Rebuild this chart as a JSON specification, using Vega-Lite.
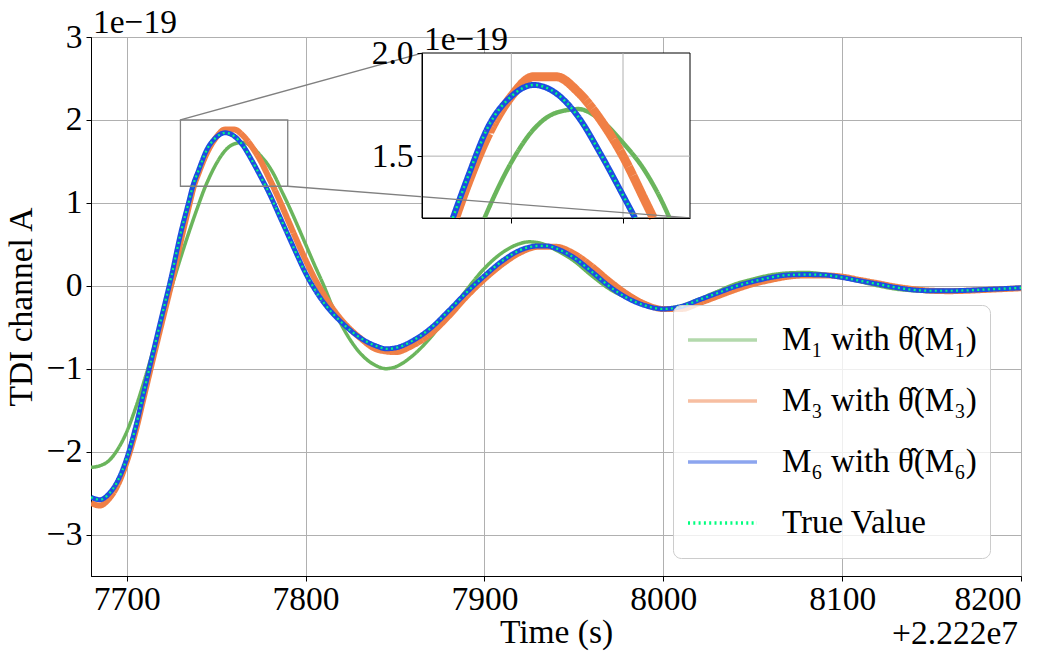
{
  "$schema": "https://vega.github.io/schema/vega-lite/v6.json",
  "width": 930,
  "height": 539,
  "autosize": {"type": "none"},
  "padding": {"left": 91, "top": 37, "right": 42, "bottom": 85},
  "config": {
    "font": "Liberation Serif",
    "view": {"stroke": "black", "strokeWidth": 1},
    "style": {
      "guide-label": {"font": "Liberation Serif", "fontSize": 33.5, "fill": "black"},
      "guide-title": {"font": "Liberation Serif", "fontSize": 33.5, "fill": "black", "fontWeight": "normal"}
    },
    "axis": {
      "labelFont": "Liberation Serif", "labelFontSize": 33.5, "labelColor": "black",
      "titleFont": "Liberation Serif", "titleFontSize": 33.5, "titleFontWeight": "normal", "titleColor": "black",
      "tickColor": "black", "domainColor": "black", "tickSize": 5, "labelPadding": 4,
      "gridColor": "#b0b0b0", "gridOpacity": 1
    },
    "axisX": {"labelPadding": 2},
    "text": {"font": "Liberation Serif", "fontSize": 33.5, "color": "black"}
  },
  "datasets": {
    "curves": [
      {"series":"M1","t":7680,"v":-2.19},{"series":"M1","t":7685,"v":-2.17},{"series":"M1","t":7690,"v":-2.11},{"series":"M1","t":7695,"v":-1.97},
      {"series":"M1","t":7700,"v":-1.76},{"series":"M1","t":7705,"v":-1.47},{"series":"M1","t":7710,"v":-1.13},{"series":"M1","t":7715,"v":-0.76},
      {"series":"M1","t":7720,"v":-0.38},{"series":"M1","t":7725,"v":-0.02},{"series":"M1","t":7730,"v":0.33},{"series":"M1","t":7735,"v":0.66},
      {"series":"M1","t":7740,"v":0.97},{"series":"M1","t":7744,"v":1.2},{"series":"M1","t":7745,"v":1.25},{"series":"M1","t":7750,"v":1.47},
      {"series":"M1","t":7755,"v":1.63},{"series":"M1","t":7760,"v":1.71},{"series":"M1","t":7765,"v":1.728},{"series":"M1","t":7770,"v":1.675},
      {"series":"M1","t":7775,"v":1.565},{"series":"M1","t":7780,"v":1.425},{"series":"M1","t":7785,"v":1.22},{"series":"M1","t":7785.4,"v":1.2},
      {"series":"M1","t":7790,"v":0.99},{"series":"M1","t":7795,"v":0.75},{"series":"M1","t":7800,"v":0.5},{"series":"M1","t":7805,"v":0.25},
      {"series":"M1","t":7810,"v":0.01},{"series":"M1","t":7815,"v":-0.25},{"series":"M1","t":7820,"v":-0.47},{"series":"M1","t":7830,"v":-0.8},
      {"series":"M1","t":7840,"v":-0.97},{"series":"M1","t":7845,"v":-1.0},{"series":"M1","t":7850,"v":-0.98},{"series":"M1","t":7860,"v":-0.84},
      {"series":"M1","t":7870,"v":-0.62},{"series":"M1","t":7880,"v":-0.34},{"series":"M1","t":7890,"v":-0.05},{"series":"M1","t":7900,"v":0.21},
      {"series":"M1","t":7910,"v":0.4},{"series":"M1","t":7920,"v":0.51},{"series":"M1","t":7925,"v":0.53},{"series":"M1","t":7930,"v":0.52},
      {"series":"M1","t":7940,"v":0.43},{"series":"M1","t":7950,"v":0.3},{"series":"M1","t":7960,"v":0.12},{"series":"M1","t":7970,"v":-0.04},
      {"series":"M1","t":7980,"v":-0.15},{"series":"M1","t":7990,"v":-0.23},{"series":"M1","t":8000,"v":-0.27},{"series":"M1","t":8010,"v":-0.24},
      {"series":"M1","t":8020,"v":-0.16},{"series":"M1","t":8030,"v":-0.07},{"series":"M1","t":8040,"v":0.02},{"series":"M1","t":8050,"v":0.08},
      {"series":"M1","t":8060,"v":0.13},{"series":"M1","t":8070,"v":0.155},{"series":"M1","t":8080,"v":0.16},{"series":"M1","t":8090,"v":0.14},
      {"series":"M1","t":8100,"v":0.1},{"series":"M1","t":8110,"v":0.05},{"series":"M1","t":8120,"v":0.0},{"series":"M1","t":8130,"v":-0.04},
      {"series":"M1","t":8140,"v":-0.06},{"series":"M1","t":8150,"v":-0.07},{"series":"M1","t":8160,"v":-0.07},{"series":"M1","t":8170,"v":-0.06},
      {"series":"M1","t":8180,"v":-0.05},{"series":"M1","t":8190,"v":-0.03},{"series":"M1","t":8200,"v":-0.02},

      {"series":"M3","t":7680,"v":-2.62},{"series":"M3","t":7685,"v":-2.65},{"series":"M3","t":7690,"v":-2.57},{"series":"M3","t":7695,"v":-2.4},
      {"series":"M3","t":7700,"v":-2.12},{"series":"M3","t":7705,"v":-1.75},{"series":"M3","t":7710,"v":-1.3},{"series":"M3","t":7715,"v":-0.85},
      {"series":"M3","t":7720,"v":-0.41},{"series":"M3","t":7725,"v":0.03},{"series":"M3","t":7730,"v":0.52},{"series":"M3","t":7735,"v":0.98},
      {"series":"M3","t":7737.5,"v":1.2},{"series":"M3","t":7740,"v":1.35},{"series":"M3","t":7745,"v":1.61},{"series":"M3","t":7750,"v":1.79},
      {"series":"M3","t":7755,"v":1.885},{"series":"M3","t":7760,"v":1.885},{"series":"M3","t":7765,"v":1.81},{"series":"M3","t":7770,"v":1.675},
      {"series":"M3","t":7775,"v":1.5},{"series":"M3","t":7780,"v":1.28},{"series":"M3","t":7781.8,"v":1.2},{"series":"M3","t":7785,"v":1.05},
      {"series":"M3","t":7790,"v":0.8},{"series":"M3","t":7795,"v":0.55},{"series":"M3","t":7800,"v":0.31},{"series":"M3","t":7805,"v":0.09},
      {"series":"M3","t":7810,"v":-0.1},{"series":"M3","t":7815,"v":-0.27},{"series":"M3","t":7820,"v":-0.41},{"series":"M3","t":7830,"v":-0.62},
      {"series":"M3","t":7840,"v":-0.77},{"series":"M3","t":7850,"v":-0.8},{"series":"M3","t":7860,"v":-0.72},{"series":"M3","t":7870,"v":-0.58},
      {"series":"M3","t":7880,"v":-0.37},{"series":"M3","t":7890,"v":-0.13},{"series":"M3","t":7900,"v":0.08},{"series":"M3","t":7910,"v":0.26},
      {"series":"M3","t":7920,"v":0.4},{"series":"M3","t":7930,"v":0.47},{"series":"M3","t":7940,"v":0.47},{"series":"M3","t":7950,"v":0.39},
      {"series":"M3","t":7960,"v":0.24},{"series":"M3","t":7970,"v":0.06},{"series":"M3","t":7980,"v":-0.1},{"series":"M3","t":7990,"v":-0.22},
      {"series":"M3","t":8000,"v":-0.28},{"series":"M3","t":8010,"v":-0.28},{"series":"M3","t":8020,"v":-0.21},{"series":"M3","t":8030,"v":-0.13},
      {"series":"M3","t":8040,"v":-0.05},{"series":"M3","t":8050,"v":0.02},{"series":"M3","t":8060,"v":0.07},{"series":"M3","t":8070,"v":0.11},
      {"series":"M3","t":8080,"v":0.125},{"series":"M3","t":8090,"v":0.125},{"series":"M3","t":8100,"v":0.11},{"series":"M3","t":8110,"v":0.07},
      {"series":"M3","t":8120,"v":0.03},{"series":"M3","t":8130,"v":-0.01},{"series":"M3","t":8140,"v":-0.04},{"series":"M3","t":8150,"v":-0.06},
      {"series":"M3","t":8160,"v":-0.065},{"series":"M3","t":8170,"v":-0.06},{"series":"M3","t":8180,"v":-0.05},{"series":"M3","t":8190,"v":-0.04},
      {"series":"M3","t":8200,"v":-0.03},

      {"series":"M6","t":7680,"v":-2.55},{"series":"M6","t":7685,"v":-2.58},{"series":"M6","t":7690,"v":-2.51},{"series":"M6","t":7695,"v":-2.35},
      {"series":"M6","t":7700,"v":-2.08},{"series":"M6","t":7705,"v":-1.7},{"series":"M6","t":7710,"v":-1.24},{"series":"M6","t":7715,"v":-0.78},
      {"series":"M6","t":7720,"v":-0.33},{"series":"M6","t":7725,"v":0.12},{"series":"M6","t":7730,"v":0.62},{"series":"M6","t":7735,"v":1.04},
      {"series":"M6","t":7736.9,"v":1.2},{"series":"M6","t":7740,"v":1.384},{"series":"M6","t":7745,"v":1.65},{"series":"M6","t":7750,"v":1.79},
      {"series":"M6","t":7755,"v":1.845},{"series":"M6","t":7760,"v":1.805},{"series":"M6","t":7765,"v":1.69},{"series":"M6","t":7770,"v":1.51},
      {"series":"M6","t":7775,"v":1.31},{"series":"M6","t":7777.7,"v":1.2},{"series":"M6","t":7780,"v":1.1},{"series":"M6","t":7785,"v":0.86},
      {"series":"M6","t":7790,"v":0.62},{"series":"M6","t":7795,"v":0.38},{"series":"M6","t":7800,"v":0.15},{"series":"M6","t":7805,"v":-0.04},
      {"series":"M6","t":7810,"v":-0.2},{"series":"M6","t":7815,"v":-0.33},{"series":"M6","t":7820,"v":-0.44},{"series":"M6","t":7830,"v":-0.62},
      {"series":"M6","t":7840,"v":-0.73},{"series":"M6","t":7845,"v":-0.76},{"series":"M6","t":7850,"v":-0.75},{"series":"M6","t":7860,"v":-0.66},
      {"series":"M6","t":7870,"v":-0.51},{"series":"M6","t":7880,"v":-0.3},{"series":"M6","t":7890,"v":-0.08},{"series":"M6","t":7900,"v":0.12},
      {"series":"M6","t":7910,"v":0.3},{"series":"M6","t":7920,"v":0.43},{"series":"M6","t":7930,"v":0.48},{"series":"M6","t":7935,"v":0.48},
      {"series":"M6","t":7940,"v":0.45},{"series":"M6","t":7950,"v":0.34},{"series":"M6","t":7960,"v":0.17},{"series":"M6","t":7970,"v":-0.01},
      {"series":"M6","t":7980,"v":-0.15},{"series":"M6","t":7990,"v":-0.24},{"series":"M6","t":8000,"v":-0.28},{"series":"M6","t":8010,"v":-0.25},
      {"series":"M6","t":8020,"v":-0.17},{"series":"M6","t":8030,"v":-0.09},{"series":"M6","t":8040,"v":-0.01},{"series":"M6","t":8050,"v":0.05},
      {"series":"M6","t":8060,"v":0.1},{"series":"M6","t":8070,"v":0.13},{"series":"M6","t":8080,"v":0.135},{"series":"M6","t":8090,"v":0.13},
      {"series":"M6","t":8100,"v":0.1},{"series":"M6","t":8110,"v":0.06},{"series":"M6","t":8120,"v":0.02},{"series":"M6","t":8130,"v":-0.02},
      {"series":"M6","t":8140,"v":-0.05},{"series":"M6","t":8150,"v":-0.06},{"series":"M6","t":8160,"v":-0.06},{"series":"M6","t":8170,"v":-0.055},
      {"series":"M6","t":8180,"v":-0.045},{"series":"M6","t":8190,"v":-0.035},{"series":"M6","t":8200,"v":-0.025},

      {"series":"True","t":7680,"v":-2.55},{"series":"True","t":7685,"v":-2.58},{"series":"True","t":7690,"v":-2.51},{"series":"True","t":7695,"v":-2.35},
      {"series":"True","t":7700,"v":-2.08},{"series":"True","t":7705,"v":-1.7},{"series":"True","t":7710,"v":-1.24},{"series":"True","t":7715,"v":-0.78},
      {"series":"True","t":7720,"v":-0.33},{"series":"True","t":7725,"v":0.12},{"series":"True","t":7730,"v":0.62},{"series":"True","t":7735,"v":1.04},
      {"series":"True","t":7736.9,"v":1.2},{"series":"True","t":7740,"v":1.384},{"series":"True","t":7745,"v":1.65},{"series":"True","t":7750,"v":1.79},
      {"series":"True","t":7755,"v":1.845},{"series":"True","t":7760,"v":1.805},{"series":"True","t":7765,"v":1.69},{"series":"True","t":7770,"v":1.51},
      {"series":"True","t":7775,"v":1.31},{"series":"True","t":7777.7,"v":1.2},{"series":"True","t":7780,"v":1.1},{"series":"True","t":7785,"v":0.86},
      {"series":"True","t":7790,"v":0.62},{"series":"True","t":7795,"v":0.38},{"series":"True","t":7800,"v":0.15},{"series":"True","t":7805,"v":-0.04},
      {"series":"True","t":7810,"v":-0.2},{"series":"True","t":7815,"v":-0.33},{"series":"True","t":7820,"v":-0.44},{"series":"True","t":7830,"v":-0.62},
      {"series":"True","t":7840,"v":-0.73},{"series":"True","t":7845,"v":-0.76},{"series":"True","t":7850,"v":-0.75},{"series":"True","t":7860,"v":-0.66},
      {"series":"True","t":7870,"v":-0.51},{"series":"True","t":7880,"v":-0.3},{"series":"True","t":7890,"v":-0.08},{"series":"True","t":7900,"v":0.12},
      {"series":"True","t":7910,"v":0.3},{"series":"True","t":7920,"v":0.43},{"series":"True","t":7930,"v":0.48},{"series":"True","t":7935,"v":0.48},
      {"series":"True","t":7940,"v":0.45},{"series":"True","t":7950,"v":0.34},{"series":"True","t":7960,"v":0.17},{"series":"True","t":7970,"v":-0.01},
      {"series":"True","t":7980,"v":-0.15},{"series":"True","t":7990,"v":-0.24},{"series":"True","t":8000,"v":-0.28},{"series":"True","t":8010,"v":-0.25},
      {"series":"True","t":8020,"v":-0.17},{"series":"True","t":8030,"v":-0.09},{"series":"True","t":8040,"v":-0.01},{"series":"True","t":8050,"v":0.05},
      {"series":"True","t":8060,"v":0.1},{"series":"True","t":8070,"v":0.13},{"series":"True","t":8080,"v":0.135},{"series":"True","t":8090,"v":0.13},
      {"series":"True","t":8100,"v":0.1},{"series":"True","t":8110,"v":0.06},{"series":"True","t":8120,"v":0.02},{"series":"True","t":8130,"v":-0.02},
      {"series":"True","t":8140,"v":-0.05},{"series":"True","t":8150,"v":-0.06},{"series":"True","t":8160,"v":-0.06},{"series":"True","t":8170,"v":-0.055},
      {"series":"True","t":8180,"v":-0.045},{"series":"True","t":8190,"v":-0.035},{"series":"True","t":8200,"v":-0.025}
    ]
  },
  "resolve": {"scale": {"x": "independent", "y": "independent"}, "axis": {"x": "independent", "y": "independent"}},
  "layer": [
    {
      "data": {"name": "curves"},
      "encoding": {
        "x": {
          "field": "t", "type": "quantitative",
          "scale": {"domain": [7680, 8200], "nice": false, "zero": false},
          "axis": {
            "title": "Time (s)", "values": [7700, 7800, 7900, 8000, 8100, 8200], "format": "d", "grid": true, "titlePadding": 1,
            "labelFont": "Liberation Serif", "labelFontSize": 33.5, "titleFont": "Liberation Serif", "titleFontSize": 33.5
          }
        },
        "y": {
          "field": "v", "type": "quantitative",
          "scale": {"domain": [-3.5, 3], "nice": false, "zero": false},
          "axis": {
            "title": "TDI channel A", "values": [-3, -2, -1, 0, 1, 2, 3], "format": "d", "grid": true, "titlePadding": 8,
            "labelFont": "Liberation Serif", "labelFontSize": 33.5, "titleFont": "Liberation Serif", "titleFontSize": 33.5
          }
        },
        "color": {
          "field": "series", "type": "nominal",
          "scale": {"domain": ["M1", "M3", "M6", "True"], "range": ["#6ab55c", "#f07f45", "#1c4ee0", "#00ff7f"]},
          "legend": {
            "title": null, "orient": "none", "legendX": 582, "legendY": 268,
            "padding": 13, "fillColor": "rgba(255,255,255,0.8)", "strokeColor": "#cccccc", "cornerRadius": 8,
            "symbolType": "stroke", "symbolSize": 4761, "symbolStrokeWidth": 3.5,
            "labelFont": "Liberation Serif", "labelFontSize": 33, "labelColor": "black", "labelOffset": 23, "labelLimit": 400,
            "clipHeight": 44, "rowPadding": 17,
            "labelExpr": "datum.value === 'M1' ? 'M\u2081 with \u03b8\u0302(M\u2081)' : datum.value === 'M3' ? 'M\u2083 with \u03b8\u0302(M\u2083)' : datum.value === 'M6' ? 'M\u2086 with \u03b8\u0302(M\u2086)' : 'True Value'",
            "encode": {"symbols": {"update": {
              "opacity": {"signal": "datum.value === 'True' ? 1 : 0.5"}
            }}}
          }
        },
        "strokeDash": {
          "field": "series", "type": "nominal",
          "scale": {"domain": ["M1", "M3", "M6", "True"], "range": [[1, 0], [1, 0], [1, 0], [2, 3.3]]}
        }
      },
      "layer": [
        {"transform": [{"filter": "datum.series === 'M1'"}], "mark": {"type": "line", "interpolate": "monotone", "strokeWidth": 3.5, "clip": true}},
        {"transform": [{"filter": "datum.series === 'M3'"}], "mark": {"type": "line", "interpolate": "monotone", "strokeWidth": 6, "clip": true}},
        {"transform": [{"filter": "datum.series === 'M6'"}], "mark": {"type": "line", "interpolate": "monotone", "strokeWidth": 5, "clip": true}},
        {"transform": [{"filter": "datum.series === 'True'"}], "mark": {"type": "line", "interpolate": "monotone", "strokeWidth": 2.2, "clip": true}}
      ]
    },
    {
      "encoding": {
        "x": {
          "field": "t", "type": "quantitative",
          "scale": {"domain": [7730, 7790], "range": [331, 599], "nice": false, "zero": false},
          "axis": {"orient": "bottom", "offset": -358, "values": [7750, 7775], "labels": false, "grid": false, "title": null, "zindex": 1}
        },
        "y": {
          "field": "v", "type": "quantitative",
          "scale": {"domain": [1.2, 2.0], "range": [181, 16], "nice": false, "zero": false},
          "axis": {
            "orient": "left", "offset": -331, "values": [1.5, 2.0], "format": ".1f", "grid": false, "title": null, "zindex": 1,
            "labelFont": "Liberation Serif", "labelFontSize": 33.5
          }
        }
      },
      "layer": [
        {
          "data": {"values": [{"t": 7730, "t2": 7790, "v": 1.2, "v2": 2.0}]},
          "mark": {"type": "rect", "fill": "white", "stroke": "black", "strokeWidth": 1},
          "encoding": {"x2": {"field": "t2"}, "y2": {"field": "v2"}}
        },
        {
          "data": {"values": [{"t": 7750, "v": 1.2, "v2": 2.0}, {"t": 7775, "v": 1.2, "v2": 2.0}]},
          "mark": {"type": "rule", "color": "#b0b0b0", "strokeWidth": 1},
          "encoding": {"y2": {"field": "v2"}}
        },
        {
          "data": {"values": [{"t": 7730, "t2": 7790, "v": 1.5}]},
          "mark": {"type": "rule", "color": "#b0b0b0", "strokeWidth": 1},
          "encoding": {"x2": {"field": "t2"}}
        },
        {
          "data": {"name": "curves"},
          "transform": [{"filter": "datum.t >= 7730 && datum.t <= 7790 && datum.v >= 1.2"}],
          "encoding": {
            "color": {"field": "series", "type": "nominal", "legend": null},
            "strokeDash": {"field": "series", "type": "nominal", "legend": null}
          },
          "layer": [
            {"transform": [{"filter": "datum.series === 'M1'"}], "mark": {"type": "line", "interpolate": "monotone", "strokeWidth": 4.5}},
            {"transform": [{"filter": "datum.series === 'M3'"}], "mark": {"type": "line", "interpolate": "monotone", "strokeWidth": 9}},
            {"transform": [{"filter": "datum.series === 'M6'"}], "mark": {"type": "line", "interpolate": "monotone", "strokeWidth": 6}},
            {"transform": [{"filter": "datum.series === 'True'"}], "mark": {"type": "line", "interpolate": "monotone", "strokeWidth": 2.5}}
          ]
        },
        {
          "data": {"values": [{"t": 7730, "v": 2.0, "label": "1e\u221219"}]},
          "mark": {"type": "text", "align": "left", "baseline": "alphabetic", "dx": 2, "dy": -3},
          "encoding": {"text": {"field": "label"}}
        }
      ]
    },
    {
      "encoding": {
        "x": {"field": "t", "type": "quantitative", "scale": {"domain": [7680, 8200], "nice": false, "zero": false}, "axis": null},
        "y": {"field": "v", "type": "quantitative", "scale": {"domain": [-3.5, 3], "nice": false, "zero": false}, "axis": null}
      },
      "layer": [
        {
          "data": {"values": [{"t": 7730, "t2": 7790, "v": 1.2, "v2": 2.0}]},
          "mark": {"type": "rect", "fill": "transparent", "stroke": "#808080", "strokeWidth": 1.3},
          "encoding": {"x2": {"field": "t2"}, "y2": {"field": "v2"}}
        },
        {
          "data": {"values": [
            {"t": 7730, "v": 2.0, "t2": 7865.07, "v2": 2.807},
            {"t": 7790, "v": 1.2, "t2": 8014.9, "v2": 0.819}
          ]},
          "mark": {"type": "rule", "color": "#808080", "strokeWidth": 1.3},
          "encoding": {"x2": {"field": "t2"}, "y2": {"field": "v2"}}
        },
        {
          "data": {"values": [{"t": 7680, "v": 3.0, "label": "1e\u221219"}]},
          "mark": {"type": "text", "align": "left", "baseline": "alphabetic", "dx": 2, "dy": -4},
          "encoding": {"text": {"field": "label"}}
        },
        {
          "data": {"values": [{"t": 8200, "v": -3.5, "label": "+2.222e7"}]},
          "mark": {"type": "text", "align": "right", "baseline": "alphabetic", "dx": -3, "dy": 68},
          "encoding": {"text": {"field": "label"}}
        }
      ]
    }
  ]
}
